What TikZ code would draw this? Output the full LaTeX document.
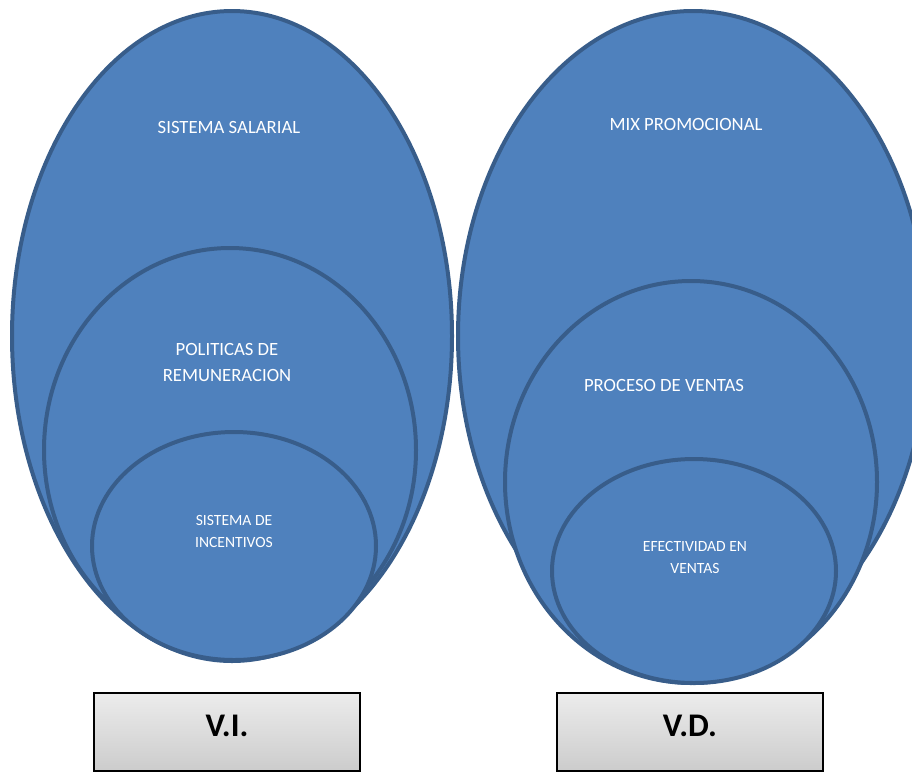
\documentclass[tikz,border=0pt]{standalone}
\usepackage{fontspec}
\setmainfont{Carlito}
\usepackage{tikz}
\usetikzlibrary{calc}

\definecolor{ovalfill}{HTML}{4F81BD}
\definecolor{ovalline}{HTML}{385D8A}

\begin{document}
\begin{tikzpicture}[x=1pt, y=-1pt]

        % Size of the page, the right oval runs off the edge
        \useasboundingbox (0, 0) rectangle (912, 772);
        \clip (0, 0) rectangle (912, 772);

        \tikzset{
            oval/.style={fill=ovalfill, draw=ovalline, line width=4pt},
            ovaltext/.style={text=white, align=center, inner sep=0pt},
            varbox/.style={draw=black, line width=1.6pt, top color=gray!15,
                bottom color=gray!40, minimum width=266pt, minimum height=78pt},
            varlabel/.style={inner sep=0pt, font=\fontsize{33}{35}\selectfont\bfseries}
        }

        % Centres of the ovals, outer to inner
        \coordinate (A1) at (232, 336);
        \coordinate (A2) at (230, 450);
        \coordinate (A3) at (234, 546);

        \coordinate (B1) at (693, 336);
        \coordinate (B2) at (691, 482);
        \coordinate (B3) at (694, 571);

        % Left set of ovals
        \begin{scope}
            \draw[oval] (A1) ellipse [x radius=220, y radius=325];
            \draw[oval] (A2) ellipse [x radius=186, y radius=202];
            \draw[oval] (A3) ellipse [x radius=142, y radius=114];
        \end{scope}

        % Right set of ovals
        \begin{scope}
            \draw[oval] (B1) ellipse [x radius=235, y radius=325];
            \draw[oval] (B2) ellipse [x radius=186, y radius=201];
            \draw[oval] (B3) ellipse [x radius=142, y radius=112];
        \end{scope}

        \begin{scope}[font=\fontsize{18.7}{26}\selectfont]
            \node[ovaltext] (salarial) at (229, 127) {SISTEMA SALARIAL};
            \node[ovaltext] (politicas) at (227, 362) {POLITICAS DE\\REMUNERACION};
            \node[ovaltext] (mix) at (686, 124) {MIX PROMOCIONAL};
            \node[ovaltext] (proceso) at (664, 385) {PROCESO DE VENTAS};
        \end{scope}

        \begin{scope}[font=\fontsize{15.6}{22}\selectfont]
            \node[ovaltext] (incentivos) at (234, 531) {SISTEMA DE\\INCENTIVOS};
            \node[ovaltext] (efectividad) at (695, 557) {EFECTIVIDAD EN\\VENTAS};
        \end{scope}

        % Boxes for the two variables
        \node[varbox] (vi) at (227, 732) {};
        \node[varbox] (vd) at (690, 732) {};
        \node[varlabel] (vitext) at ($(vi.center) + (0, -6)$) {V.I.};
        \node[varlabel] (vdtext) at ($(vd.center) + (0, -6)$) {V.D.};

\end{tikzpicture}
\end{document}
